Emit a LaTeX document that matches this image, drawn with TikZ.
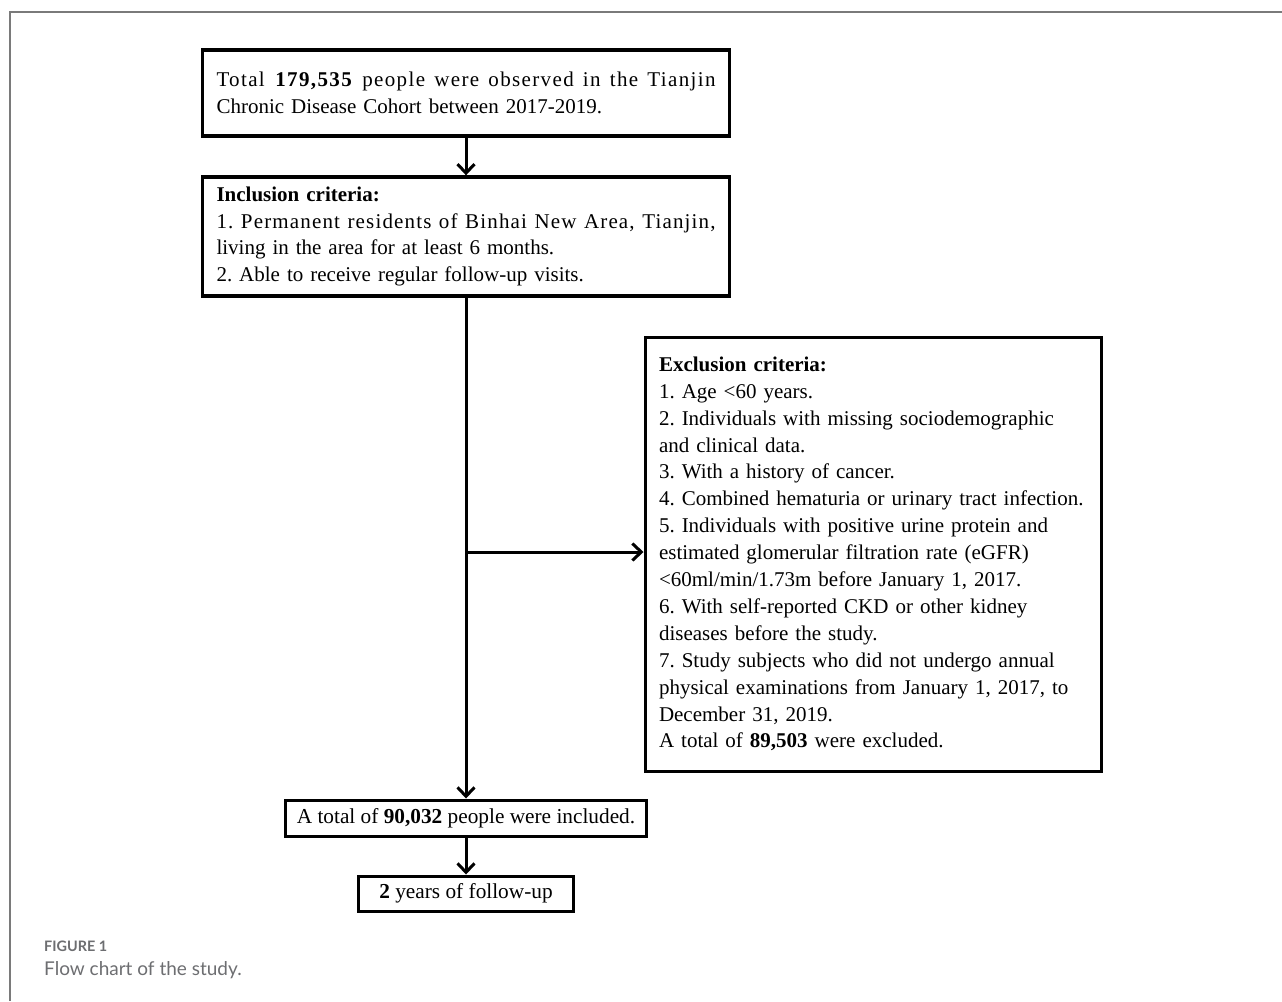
\documentclass[tikz,border=0pt]{standalone}
\usepackage{fontspec}
\setmainfont{Liberation Serif}
\newfontfamily\capfont{Lato}
\usetikzlibrary{arrows.meta}
\definecolor{framegray}{HTML}{7A7A7A}
\definecolor{capgray}{HTML}{6D6E71}
\newcommand{\justline}[3]{\leavevmode\hbox to #1{\addfontfeature{LetterSpace=#2}\spaceskip=0.22em plus 1fil\relax #3}}
\tikzset{
  box/.style={draw=black, line width=3pt, fill=white, align=left,
    inner xsep=14pt, inner ysep=0pt,
    font=\frenchspacing\fontsize{21pt}{26.9pt}\selectfont},
  flowarrow/.style={line width=3pt, -{Straight Barb[length=9pt,width=17pt]}},
}
\begin{document}
\begin{tikzpicture}[x=1pt,y=-1pt]
\useasboundingbox[fill=white] (0,0) rectangle (1282,1001);
% frame
\draw[framegray, line width=1.5pt] (10,1001) -- (10,12) -- (1282,12);

\node[box, text width=499pt, minimum height=86pt, line width=3.4pt] (b1) at (466,93)
 {\justline{499pt}{6.5}{Total \textbf{179,535} people were observed in the Tianjin}\\
  Chronic Disease Cohort between 2017-2019.};

\node[box, text width=499pt, minimum height=119pt, line width=3.4pt] (b2) at (466,236.5)
 {\textbf{Inclusion criteria:}\\
  \justline{499pt}{5.5}{1. Permanent residents of Binhai New Area, Tianjin,}\\
  living in the area for at least 6 months.\\
  2. Able to receive regular follow-up visits.};

\node[box, text width=428pt, minimum height=434pt] (b3) at (873,554)
 {\textbf{Exclusion criteria:}\\
  1. Age <60 years.\\
  2. Individuals with missing sociodemographic\\
  and clinical data.\\
  3. With a history of cancer.\\
  4. Combined hematuria or urinary tract infection.\\
  5. Individuals with positive urine protein and\\
  estimated glomerular filtration rate (eGFR)\\
  <60ml/min/1.73m before January 1, 2017.\\
  6. With self-reported CKD or other kidney\\
  diseases before the study.\\
  7. Study subjects who did not undergo annual\\
  physical examinations from January 1, 2017, to\\
  December 31, 2019.\\
  A total of \textbf{89,503} were excluded.};

\node[box, minimum width=361pt, minimum height=36pt, inner xsep=10pt, align=center, font=\frenchspacing\fontsize{21.3pt}{26pt}\selectfont] (b4) at (466,818)
 {A total of \textbf{90,032} people were included.};

\node[box, minimum width=215pt, minimum height=35pt, align=center, font=\frenchspacing\fontsize{21.3pt}{26pt}\selectfont] (b5) at (466,893.5)
 {\textbf{2} years of follow-up};

\draw[flowarrow] (b1.south) -- (b2.north);
\draw[flowarrow] (b2.south) -- (b4.north);
\path (0,552) coordinate (hy);
\coordinate (br) at (b2.south |- hy);
\draw[flowarrow] (br) -- (br -| b3.west);
\draw[flowarrow] (b4.south) -- (b5.north);

\node[anchor=base west, inner sep=0pt, text=capgray, font=\capfont\bfseries\fontsize{14.4pt}{17pt}\selectfont] (fig) at (44,951) {FIGURE 1};
\node[anchor=base west, inner sep=0pt, text=capgray, font=\capfont\fontsize{19pt}{22pt}\selectfont] (cap) at (44,975) {Flow chart of the study.};
\end{tikzpicture}
\end{document}
